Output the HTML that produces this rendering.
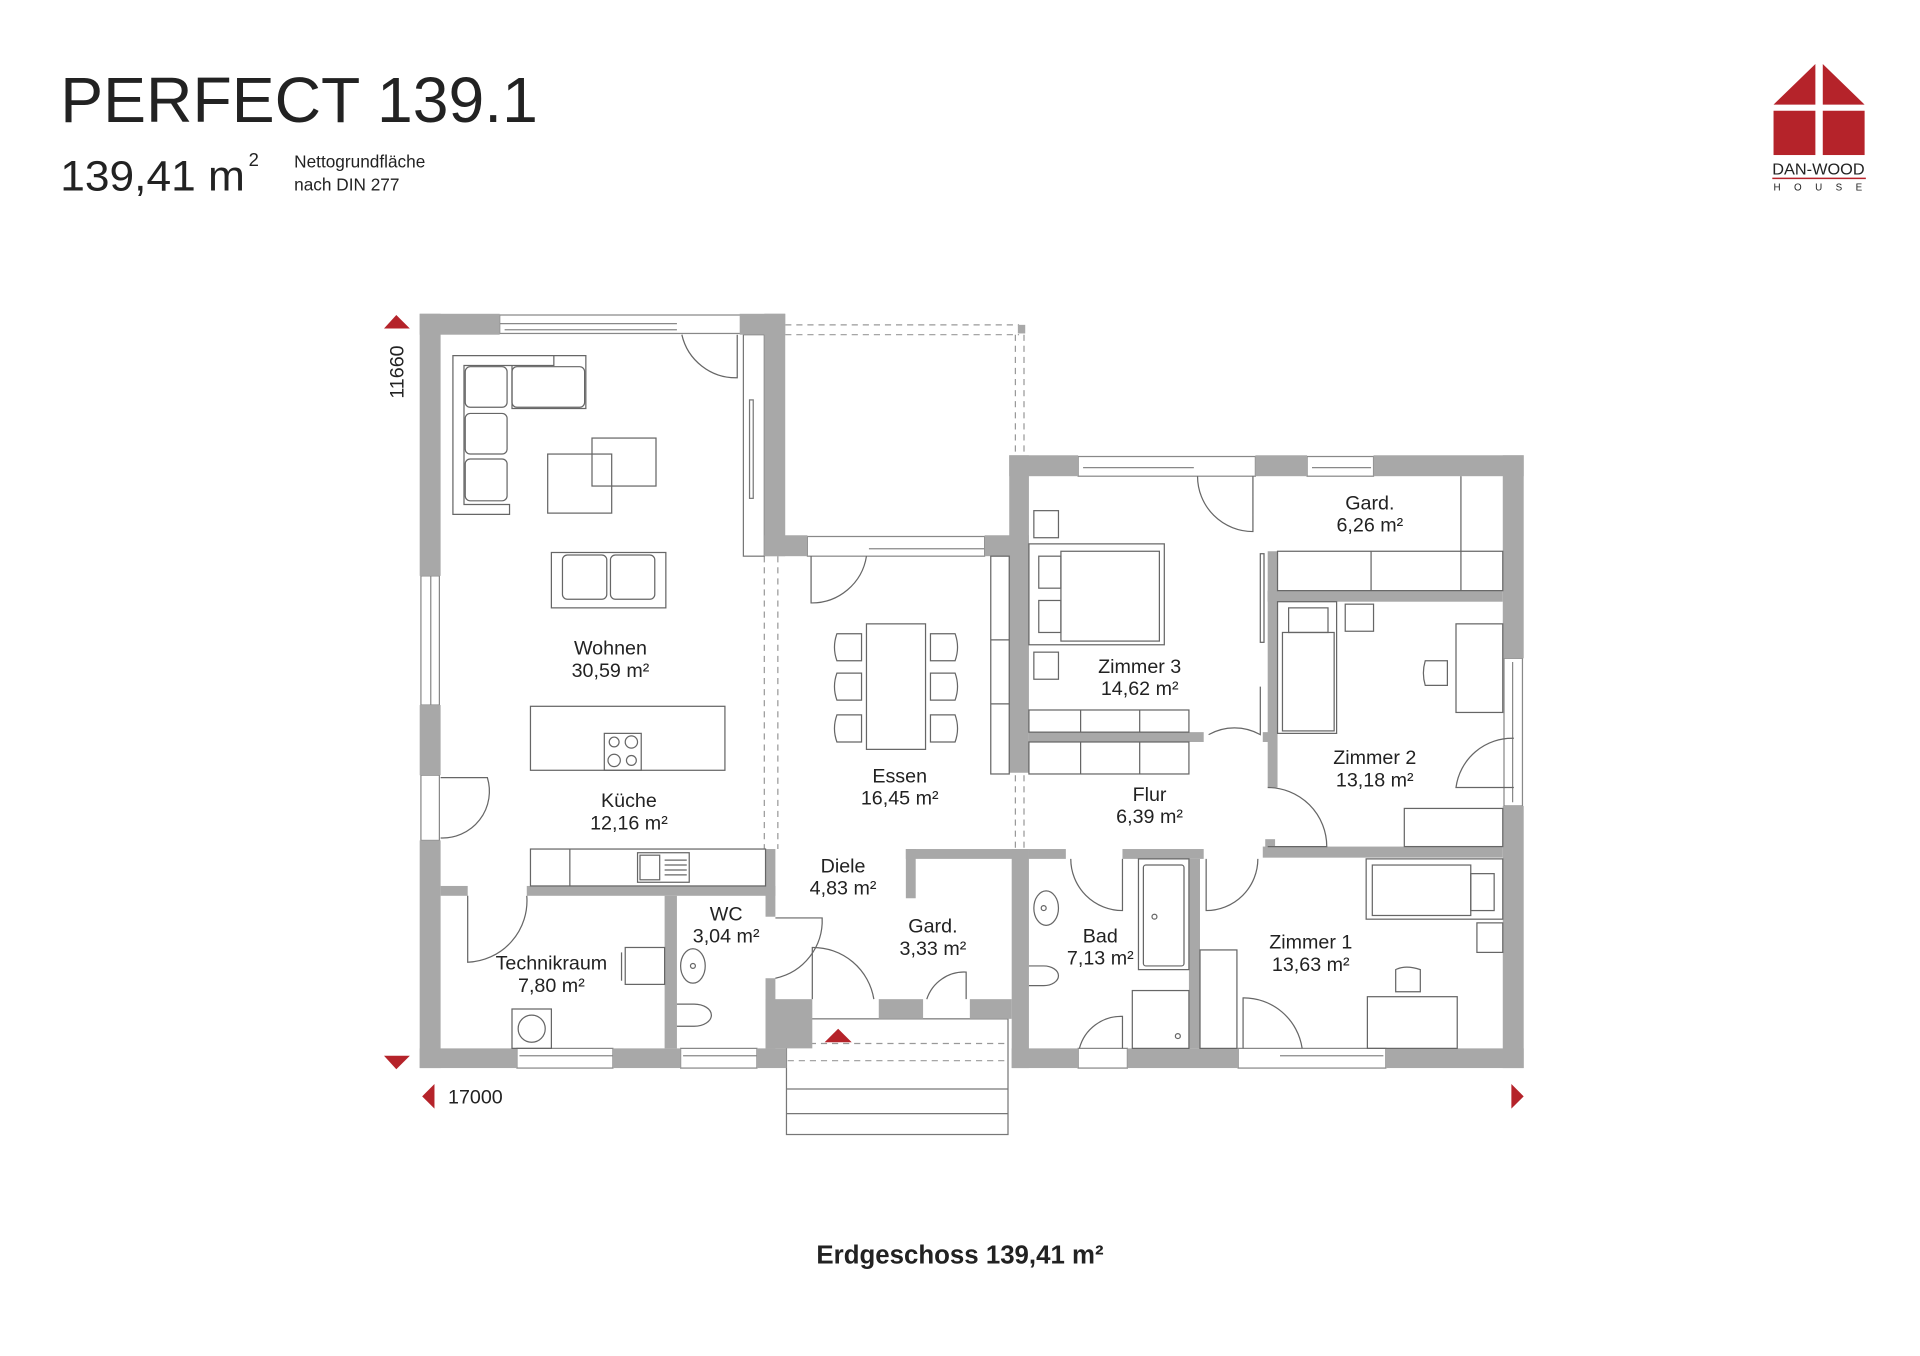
<!DOCTYPE html>
<html><head><meta charset="utf-8"><style>
html,body{margin:0;padding:0;background:#fff;}
svg{display:block;}
text{font-family:"Liberation Sans",sans-serif;fill:#222;}
</style></head><body>
<svg width="1920" height="1356" viewBox="0 0 1560 1102" preserveAspectRatio="none" xmlns="http://www.w3.org/2000/svg">
<rect width="1560" height="1102" fill="#fff"/>
<!-- header -->
<text x="49" y="99" font-size="52" textLength="388" lengthAdjust="spacingAndGlyphs">PERFECT 139.1</text>
<text x="49" y="155" font-size="35" textLength="150" lengthAdjust="spacingAndGlyphs">139,41 m</text>
<text x="202" y="135" font-size="15">2</text>
<text x="239" y="136" font-size="14">Nettogrundfläche</text>
<text x="239" y="155" font-size="14">nach DIN 277</text>
<!-- logo -->
<g>
<polygon points="1441,85 1475,52 1475,85" fill="#b5232a"/>
<polygon points="1481,52 1515,85 1481,85" fill="#b5232a"/>
<rect x="1441" y="90" width="34" height="36" fill="#b5232a"/>
<rect x="1481" y="90" width="34" height="36" fill="#b5232a"/>
<text x="1440" y="142" font-size="12.5" textLength="75" lengthAdjust="spacingAndGlyphs">DAN-WOOD</text>
<line x1="1440" y1="145" x2="1516" y2="145" stroke="#b5232a" stroke-width="1.2"/>
<text x="1441" y="155" font-size="8" textLength="72" lengthAdjust="spacing">HOUSE</text>
</g>

<g fill="none" stroke="#777" stroke-width="1">
<g stroke-dasharray="5,4" stroke="#999">
<line x1="638" y1="264" x2="828" y2="264"/><line x1="638" y1="272" x2="828" y2="272"/>
<line x1="825" y1="272" x2="825" y2="370"/><line x1="832" y1="272" x2="832" y2="370"/>
<line x1="621" y1="452" x2="621" y2="690"/><line x1="632" y1="452" x2="632" y2="690"/>
<line x1="825" y1="630" x2="825" y2="690"/><line x1="832" y1="630" x2="832" y2="690"/>
<line x1="640" y1="848" x2="818" y2="848"/><line x1="640" y1="862" x2="818" y2="862"/>
</g>
<rect x="827" y="264" width="6" height="7" fill="#a8a8a8" stroke="none"/>
<g stroke="#888">
<rect x="406" y="256" width="196" height="15"/><line x1="406" y1="263" x2="550" y2="263"/><line x1="410" y1="268" x2="550" y2="268"/>
<rect x="342" y="468" width="15" height="105"/><line x1="350" y1="468" x2="350" y2="573"/>
<rect x="342" y="630" width="15" height="53"/>
<rect x="656" y="436" width="144" height="16"/><line x1="706" y1="446" x2="800" y2="446"/>
<rect x="876" y="371" width="144" height="16"/><line x1="880" y1="380" x2="970" y2="380"/>
<rect x="1062" y="371" width="54" height="16"/><line x1="1066" y1="380" x2="1114" y2="380"/>
<rect x="1222" y="535" width="15" height="120"/><line x1="1229" y1="538" x2="1229" y2="652"/>
<rect x="420" y="852" width="78" height="16"/><line x1="422" y1="858" x2="498" y2="858"/>
<rect x="553" y="852" width="62" height="16"/><line x1="555" y1="858" x2="615" y2="858"/>
<rect x="1006" y="852" width="120" height="16"/><line x1="1040" y1="858" x2="1124" y2="858"/>
<rect x="876" y="852" width="40" height="16"/>
</g>
<rect x="604" y="272" width="17" height="180"/><rect x="609" y="325" width="3" height="80"/>
<rect x="639" y="828" width="180" height="94"/>
<line x1="639" y1="885" x2="819" y2="885"/><line x1="639" y1="905" x2="819" y2="905"/>
</g>

<g fill="#a8a8a8">
<rect x="341" y="255" width="65" height="17"/>
<rect x="601" y="255" width="37" height="17"/>
<rect x="621" y="255" width="17" height="197"/>
<rect x="621" y="435" width="35" height="17"/>
<rect x="341" y="255" width="17" height="213"/>
<rect x="341" y="573" width="17" height="57"/>
<rect x="341" y="683" width="17" height="185"/>
<rect x="341" y="852" width="79" height="16"/>
<rect x="498" y="852" width="55" height="16"/>
<rect x="615" y="852" width="24" height="16"/>
<rect x="358" y="720" width="22" height="8"/>
<rect x="428" y="720" width="202" height="8"/>
<rect x="622" y="690" width="8" height="55"/>
<rect x="540" y="728" width="10" height="124"/>
<rect x="622" y="795" width="8" height="57"/>
<rect x="622" y="812" width="38" height="40"/>
<rect x="714" y="812" width="36" height="16"/>
<rect x="788" y="812" width="34" height="16"/>
<rect x="736" y="690" width="100" height="8"/>
<rect x="736" y="690" width="8" height="40"/>
<rect x="800" y="435" width="36" height="17"/>
<rect x="820" y="370" width="16" height="258"/>
<rect x="820" y="370" width="56" height="17"/>
<rect x="1020" y="370" width="42" height="17"/>
<rect x="1116" y="370" width="122" height="17"/>
<rect x="1221" y="370" width="17" height="165"/>
<rect x="1221" y="655" width="17" height="213"/>
<rect x="1126" y="852" width="112" height="16"/>
<rect x="916" y="852" width="90" height="16"/>
<rect x="822" y="690" width="14" height="178"/>
<rect x="822" y="852" width="54" height="16"/>
<rect x="836" y="690" width="30" height="8"/>
<rect x="912" y="690" width="66" height="8"/>
<rect x="966" y="698" width="9" height="154"/>
<rect x="1026" y="688" width="195" height="9"/>
<rect x="1028" y="682" width="8" height="8"/>
<rect x="1030" y="480" width="8" height="160"/>
<rect x="1026" y="595" width="10" height="8"/>
<rect x="1030" y="480" width="191" height="9"/>
<rect x="1030" y="448" width="8" height="40"/>
<rect x="836" y="595" width="142" height="8"/>
</g>

<g fill="none" stroke="#666" stroke-width="1">
<path d="M599,272 V307 A45,45 0 0 1 554,272"/>
<path d="M358,632 H396 A38,38 0 0 1 358,681" />
<path d="M380,728 V782 A50,50 0 0 0 428,728"/>
<path d="M659,452 V490 A45,45 0 0 0 704,452"/>
<path d="M630,746 H668 A48,48 0 0 1 630,795"/>
<path d="M660,812 V770 A50,50 0 0 1 710,812"/>
<path d="M753,812 A32,32 0 0 1 785,790 V812"/>
<path d="M1018,387 V432 A45,45 0 0 1 973,387"/>
<path d="M1024,558 V597 A43,43 0 0 0 982,597"/>
<path d="M1030,640 A48,48 0 0 1 1078,688 H1030"/>
<path d="M1230,640 H1183 A46,46 0 0 1 1230,600"/>
<path d="M870,698 A42,42 0 0 0 912,740 V698"/>
<path d="M1022,698 A42,42 0 0 1 980,740 V698"/>
<path d="M877,852 A35,35 0 0 1 912,826 V852"/>
<path d="M1010,852 V811 A48,48 0 0 1 1058,852"/>
<path d="M368,289 H450 V297 H377 V410 H414 V418 H368 Z"/>
<path d="M450,289 H476 V332 H416 V297"/>
<rect x="378" y="298" width="34" height="33" rx="4"/>
<rect x="378" y="336" width="34" height="33" rx="4"/>
<rect x="378" y="373" width="34" height="34" rx="4"/>
<rect x="416" y="298" width="59" height="33" rx="4"/>
<rect x="481" y="356" width="52" height="39"/>
<rect x="445" y="369" width="52" height="48"/>
<rect x="448" y="449" width="93" height="45"/>
<rect x="457" y="451" width="36" height="36" rx="4"/>
<rect x="496" y="451" width="36" height="36" rx="4"/>
<rect x="431" y="574" width="158" height="52"/>
<rect x="491" y="596" width="30" height="30"/>
<circle cx="499" cy="603" r="4"/><circle cx="513" cy="603" r="5"/><circle cx="499" cy="618" r="5"/><circle cx="513" cy="618" r="4"/>
<rect x="431" y="690" width="191" height="30"/>
<line x1="463" y1="690" x2="463" y2="720"/>
<rect x="518" y="693" width="42" height="24"/><rect x="520" y="695" width="16" height="20"/>
<line x1="540" y1="699" x2="558" y2="699"/><line x1="540" y1="703" x2="558" y2="703"/><line x1="540" y1="707" x2="558" y2="707"/><line x1="540" y1="711" x2="558" y2="711"/>
<rect x="704" y="507" width="48" height="102"/>
<path d="M680,515 h20 v22 h-20 q-4,-11 0,-22z"/><path d="M680,547 h20 v22 h-20 q-4,-11 0,-22z"/><path d="M680,581 h20 v22 h-20 q-4,-11 0,-22z"/>
<path d="M756,515 h20 q4,11 0,22 h-20z"/><path d="M756,547 h20 q4,11 0,22 h-20z"/><path d="M756,581 h20 q4,11 0,22 h-20z"/>
<rect x="805" y="452" width="15" height="177"/><line x1="805" y1="520" x2="820" y2="520"/><line x1="805" y1="572" x2="820" y2="572"/>
<rect x="840" y="415" width="20" height="22"/>
<rect x="836" y="442" width="110" height="82"/><rect x="862" y="448" width="80" height="73"/>
<rect x="844" y="452" width="18" height="26"/><rect x="844" y="488" width="18" height="26"/>
<rect x="840" y="530" width="20" height="22"/>
<rect x="836" y="577" width="130" height="18"/><line x1="878" y1="577" x2="878" y2="595"/><line x1="926" y1="577" x2="926" y2="595"/>
<rect x="836" y="603" width="130" height="26"/><line x1="878" y1="603" x2="878" y2="629"/><line x1="926" y1="603" x2="926" y2="629"/>
<rect x="1024" y="450" width="3" height="72"/>
<rect x="1038" y="448" width="183" height="32"/><line x1="1114" y1="448" x2="1114" y2="480"/><line x1="1187" y1="387" x2="1187" y2="480"/>
<rect x="1038" y="489" width="48" height="107"/><rect x="1042" y="514" width="42" height="80"/><rect x="1047" y="494" width="32" height="20"/>
<rect x="1093" y="491" width="23" height="22"/>
<rect x="1183" y="507" width="38" height="72"/>
<path d="M1158,537 h18 v20 h-18 q-3,-10 0,-20z"/>
<rect x="1141" y="657" width="80" height="31"/>
<rect x="1110" y="698" width="111" height="49"/><rect x="1115" y="703" width="80" height="41"/><rect x="1195" y="710" width="19" height="30"/>
<rect x="1200" y="750" width="21" height="24"/>
<path d="M1134,788 q8,-4 20,0 v18 h-20z"/>
<rect x="1111" y="810" width="73" height="42"/>
<rect x="975" y="772" width="30" height="80"/>
<rect x="925" y="698" width="41" height="90"/><rect x="929" y="703" width="33" height="82" rx="2"/><circle cx="938" cy="745" r="2"/>
<rect x="920" y="805" width="46" height="47"/><circle cx="957" cy="842" r="2"/>
<ellipse cx="850" cy="738" rx="10" ry="14"/><circle cx="848" cy="738" r="2"/>
<path d="M836,785 h12 a12,8 0 1 1 0,16 h-12"/>
<ellipse cx="563" cy="785" rx="10" ry="14"/><circle cx="563" cy="785" r="2"/>
<path d="M550,816 h14 a14,9 0 1 1 0,18 h-14"/>
<rect x="508" y="770" width="32" height="30"/><line x1="505" y1="774" x2="505" y2="797"/>
<rect x="416" y="820" width="32" height="32"/><circle cx="432" cy="836" r="11"/>
</g>

<g fill="#b5232a">
<polygon points="670,847 681,836 692,847"/>
<polygon points="312,267 322,256 333,267"/>
<polygon points="312,858 333,858 322,869"/>
<polygon points="353,881 353,901 343,891"/>
<polygon points="1228,881 1228,901 1238,891"/>
</g>
<text x="0" y="0" font-size="16" transform="translate(328,324) rotate(-90)">11660</text>
<text x="364" y="897" font-size="16">17000</text>

<g font-size="16" text-anchor="middle">
<text x="496" y="532">Wohnen</text><text x="496" y="550">30,59 m²</text>
<text x="511" y="656">Küche</text><text x="511" y="674">12,16 m²</text>
<text x="731" y="636">Essen</text><text x="731" y="654">16,45 m²</text>
<text x="685" y="709">Diele</text><text x="685" y="727">4,83 m²</text>
<text x="590" y="748">WC</text><text x="590" y="766">3,04 m²</text>
<text x="448" y="788">Technikraum</text><text x="448" y="806">7,80 m²</text>
<text x="758" y="758">Gard.</text><text x="758" y="776">3,33 m²</text>
<text x="926" y="547">Zimmer 3</text><text x="926" y="565">14,62 m²</text>
<text x="1113" y="414">Gard.</text><text x="1113" y="432">6,26 m²</text>
<text x="1117" y="621">Zimmer 2</text><text x="1117" y="639">13,18 m²</text>
<text x="934" y="651">Flur</text><text x="934" y="669">6,39 m²</text>
<text x="894" y="766">Bad</text><text x="894" y="784">7,13 m²</text>
<text x="1065" y="771">Zimmer 1</text><text x="1065" y="789">13,63 m²</text>
</g>
<text x="780" y="1027" font-size="21" font-weight="bold" text-anchor="middle" fill="#333">Erdgeschoss 139,41 m²</text>
</svg>
</body></html>
